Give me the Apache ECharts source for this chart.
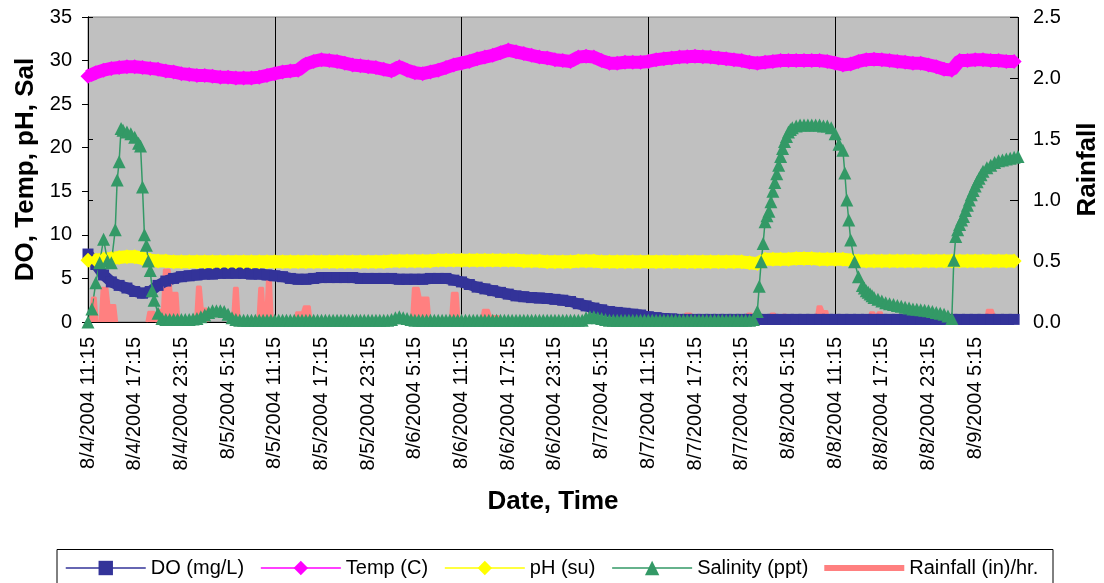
<!DOCTYPE html>
<html><head><meta charset="utf-8">
<script src="https://cdn.jsdelivr.net/npm/echarts@6/dist/echarts.min.js"></script>
<style>html,body{margin:0;padding:0;background:#fff}#c{width:1104px;height:583px}</style>
</head><body><div id="c"></div>
<script>
// x tick labels (every 6 hours from 8/4/2004 11:15)
const tickLabels = ['8/4/2004 11:15','8/4/2004 17:15','8/4/2004 23:15','8/5/2004 5:15','8/5/2004 11:15','8/5/2004 17:15','8/5/2004 23:15','8/6/2004 5:15','8/6/2004 11:15','8/6/2004 17:15','8/6/2004 23:15','8/7/2004 5:15','8/7/2004 11:15','8/7/2004 17:15','8/7/2004 23:15','8/8/2004 5:15','8/8/2004 11:15','8/8/2004 17:15','8/8/2004 23:15','8/9/2004 5:15'];

// hourly readings (hours since 8/4/2004 11:15)
const doV = [7.8,6.6,5.4,4.6,4.2,3.9,3.5,3.3,3.5,4.2,4.7,5.0,5.2,5.3,5.4,5.5,5.5,5.6,5.6,5.6,5.6,5.5,5.5,5.4,5.3,5.2,5.0,4.9,4.9,5.0,5.1,5.1,5.1,5.1,5.1,5.0,5.0,5.0,5.0,5.0,4.9,4.9,4.9,4.9,5.0,5.0,5.0,4.8,4.6,4.3,4.0,3.8,3.6,3.4,3.2,3.0,2.9,2.8,2.75,2.7,2.6,2.5,2.35,2.1,1.85,1.6,1.4,1.2,1.1,1.0,0.9,0.8,0.6,0.5,0.4,0.35,0.3,0.3,0.3,0.3,0.3,0.3,0.3,0.3,0.3,0.3,0.3,0.3,0.3,0.3,0.3,0.3,0.3,0.3,0.3,0.3,0.3,0.3,0.3,0.3,0.3,0.3,0.3,0.3,0.3,0.3,0.3,0.3,0.3,0.3,0.3,0.3,0.3,0.3,0.3,0.3,0.3,0.3,0.3,0.3];
const tempV = [28.2,28.6,28.9,29.1,29.2,29.3,29.3,29.2,29.1,29.0,28.8,28.7,28.5,28.4,28.3,28.3,28.2,28.1,28.1,28.0,28.0,28.0,28.1,28.3,28.5,28.7,28.8,28.9,29.6,29.9,30.1,30.0,29.9,29.7,29.5,29.4,29.3,29.2,29.0,28.8,29.3,28.9,28.6,28.5,28.7,28.9,29.2,29.5,29.7,29.9,30.2,30.4,30.6,30.9,31.2,31.0,30.8,30.6,30.4,30.3,30.1,30.0,29.9,30.4,30.5,30.4,30.0,29.7,29.7,29.8,29.8,29.8,29.9,30.1,30.2,30.3,30.4,30.45,30.5,30.45,30.4,30.3,30.2,30.1,30.0,29.8,29.7,29.8,29.9,30.0,30.0,30.0,30.0,30.0,30.0,29.9,29.7,29.5,29.6,29.9,30.1,30.15,30.1,30.0,29.9,29.8,29.7,29.7,29.5,29.3,29.0,28.9,30.0,30.0,30.1,30.1,30.0,30.0,29.9,29.9];
const phV = [7.1,7.1,7.2,7.3,7.4,7.5,7.5,7.3,7.1,7.0,7.0,6.9,6.9,6.9,6.9,6.9,6.9,6.9,6.9,6.9,6.9,6.9,6.9,6.9,6.9,6.9,6.9,6.9,6.9,6.9,6.9,6.9,6.9,6.9,6.9,6.9,6.9,6.9,6.9,7.0,7.0,7.0,7.0,7.0,7.0,7.1,7.1,7.1,7.1,7.1,7.1,7.1,7.1,7.1,7.1,7.1,7.0,7.0,7.0,6.9,6.9,6.9,6.9,7.0,7.0,7.0,6.9,6.9,6.9,6.9,6.9,6.9,6.9,6.9,6.9,6.9,6.9,6.9,6.9,6.9,6.9,6.9,6.9,6.9,6.9,6.8,6.7,7.2,7.2,7.2,7.2,7.3,7.3,7.3,7.2,7.2,7.2,7.2,7.1,7.0,7.0,7.0,7.0,7.0,7.0,7.0,7.0,7.0,7.0,7.0,7.0,7.0,7.0,7.0,7.0,7.0,7.0,7.0,7.0,7.0];

// salinity readings: early spike, half-hourly baseline (10h..85h), later tides
const salT1 = [0,0.5,1,1.5,2,2.5,3,3.5,3.75,4,4.25,4.5,5,5.5,6,6.5,6.75,7,7.25,7.5,7.75,8,8.25,8.5,9,9.5];
const salV1 = [0,1.5,4.5,6.8,9.5,7.0,6.8,10.6,16.3,18.4,22.2,22.0,21.8,21.6,21.2,20.5,20.2,15.5,10.0,8.8,7.0,5.9,3.6,2.5,1.0,0.4];
const salV2 = [0.3,0.3,0.3,0.3,0.3,0.3,0.3,0.35,0.4,0.6,0.8,1.1,1.3,1.3,1.3,1.2,0.9,0.5,0.3,0.2,
 0.2,0.2,0.2,0.2,0.2,0.2,0.2,0.2,0.2,0.2,0.2,0.2,0.2,0.2,0.2,0.2,0.2,0.2,0.2,0.2,0.2,0.2,0.2,0.2,0.2,0.2,0.2,0.2,0.2,0.2,0.2,0.2,0.2,0.2,0.2,0.2,0.2,0.2,
 0.3,0.5,0.6,0.5,0.4,0.3,
 0.2,0.2,0.2,0.2,0.2,0.2,0.2,0.2,0.2,0.2,0.2,0.2,0.2,0.2,0.2,0.2,0.2,0.2,0.2,0.2,0.2,0.2,0.2,0.2,0.2,0.2,0.2,0.2,0.2,0.2,0.2,0.2,0.2,0.2,0.2,0.2,0.2,0.2,0.2,0.2,0.2,0.2,0.2,0.2,
 0.5,0.6,0.6,0.5,0.4,0.3,
 0.2,0.2,0.2,0.2,0.2,0.2,0.2,0.2,0.2,0.2,0.2,0.2,0.2,0.2,0.2,0.2,0.2,0.2,0.2,0.2,0.2,0.2,0.2,0.2,0.2,0.2,0.2,0.2,0.2,0.2,0.2,0.2,0.2,0.2,0.2,0.2,0.2];
const salT3 = [85.5,86,86.25,86.5,86.75,87,87.25,87.5,87.75,88,88.25,88.5,88.75,89,89.25,89.5,89.75,90,90.25,90.5,91,91.5,92,92.5,93,93.5,94,94.5,95,95.5,96,96.5,97,97.25,97.5,97.75,98,98.5,99,99.5,99.75,100,100.25,100.5,100.75,101,101.5,102,102.5,103,103.5,104,104.5,105,105.5,106,106.5,107,107.5,108,108.5,109,109.5,110,110.5,111,111.25,111.5,111.75,112,112.25,112.5,112.75,113,113.25,113.5,113.75,114,114.25,114.5,114.75,115,115.5,116,116.5,117,117.5,118,118.5,119,119.5];
const salV3 = [0.3,1.2,4.1,6.9,9.0,11.5,12.2,12.7,13.8,15.0,16.0,17.0,18.0,19.0,19.9,20.7,21.3,21.8,22.1,22.3,22.5,22.6,22.6,22.6,22.6,22.6,22.6,22.5,22.5,22.3,21.6,20.4,19.7,17.1,14.0,11.7,9.4,6.9,5.2,4.2,3.9,3.6,3.4,3.2,3.0,2.8,2.6,2.4,2.2,2.1,2.0,1.9,1.8,1.7,1.6,1.5,1.45,1.4,1.35,1.3,1.2,1.1,1.0,0.9,0.7,0.4,7.1,9.8,10.6,11.2,11.7,12.1,12.8,13.4,14.0,14.6,15.1,15.6,16.1,16.5,16.9,17.3,17.7,18.0,18.3,18.5,18.6,18.7,18.8,18.9,19.0];

// rainfall (in/hr), null = no record between showers
const rainT = [0.25,0.5,1.0,1.25,1.4, 1.5,1.75,2.5,2.75,3.5,3.75,5, 7.5,7.75,8.5,8.75,9.0,9.5,9.75,10.5,10.75,11.5,11.75,12, 13.75,14,14.5,14.75,15.25,15.5,16, 18.5,18.75,19.25,19.5,20, 21.75,22,22.5,22.75,23,23.5,23.75,25, 26.5,26.75,27.5,27.75,28.5,28.75,30, 41.5,41.75,42.5,42.75,43.75,44,45, 46.5,46.75,47.5,47.75,49, 50.25,50.5,50.75,51.5,51.75,52.75,53,60, 76.5,76.75,77.5,77.75,80,
 83.25,83.5,84.5,84.75,85.25,85.5,86,86.25,86.75,87,87.5,87.75,88.25,88.5,89,89.25,89.75,90,90.25,90.75,91,92,92.25,92.75,93,93.5,93.75,94.25,94.5,95,95.25,97,
 98.25,98.5,99.5,99.75,100.25,100.5,101,101.25,101.5,102,102.25,104,104.25,105,105.25,106,106.25,110, 115.25,115.5,116.25,116.5,117.5,117.75];
const rainV = [0,0.2,0.2,0,null, 0,0.28,0.28,0.14,0.14,0,null, 0,0.085,0.085,0,0.1,0.1,0.43,0.43,0.24,0.24,0,null, 0,0.29,0.29,0.11,0.11,0,null, 0,0.28,0.28,0,null, 0,0.28,0.28,0,0.36,0.36,0,null, 0,0.08,0.08,0.13,0.13,0,null, 0,0.28,0.28,0.2,0.2,0,null, 0,0.24,0.24,0,null, 0,0.02,0.1,0.1,0.05,0.05,0,null, 0,0.07,0.07,0,null,
 0,0.03,0.03,0.07,0.07,0.03,0.03,0.05,0.05,0.03,0.03,0.07,0.07,0.04,0.04,0.06,0.06,0.04,0.05,0.05,0.03,0.03,0.05,0.05,0.03,0.03,0.13,0.13,0.09,0.09,0,null,
 0,0.05,0.05,0,0,0.08,0.08,0.05,0.08,0.08,0.03,0.03,0.06,0.06,0.02,0.02,0,null, 0,0.1,0.1,0.05,0.05,0];

const FONT = 'Liberation Sans, Arial, sans-serif';
const hourT = doV.map((_, i) => i);
const salT2 = salV2.map((_, i) => 10 + i * 0.5);
const salT = salT1.concat(salT2, salT3);
const salV = salV1.concat(salV2, salV3);
const pairs = (t, v) => t.map((x, i) => [x, v[i]]);
const tickPos = tickLabels.map((_, i) => i * 6);

const chart = echarts.init(document.getElementById('c'), null, {renderer: 'canvas'});
chart.setOption({
  animation: false,
  backgroundColor: '#ffffff',
  grid: {left: 88, right: 86, top: 17, bottom: 261, outerBoundsMode: 'none', containLabel: false,
         show: true, backgroundColor: '#C0C0C0', borderColor: '#808080', borderWidth: 1},
  xAxis: [{
    type: 'value', min: 0, max: 119.5,
    name: 'Date, Time', nameLocation: 'middle', nameGap: 167,
    nameTextStyle: {fontFamily: FONT, fontSize: 26, fontWeight: 'bold', color: '#000'},
    axisLine: {show: true, lineStyle: {color: '#000', width: 1}},
    axisTick: {show: false},
    splitLine: {show: false},
    axisLabel: {
      customValues: tickPos, rotate: 90, margin: 15,
      fontFamily: FONT, fontSize: 20, color: '#000',
      formatter: v => { const i = Math.round(v / 6); return (Math.abs(v - i * 6) < 1e-6 && tickLabels[i]) ? tickLabels[i] : ''; }
    }
  }, {
    type: 'value', min: 0, max: 119.5, interval: 24, position: 'bottom',
    axisLine: {show: false}, axisTick: {show: false}, axisLabel: {show: false},
    splitLine: {show: true, lineStyle: {color: '#000', width: 1}}
  }],
  yAxis: [{
    type: 'value', min: 0, max: 35, interval: 5, position: 'left',
    name: 'DO, Temp, pH, Sal', nameLocation: 'middle', nameGap: 48, nameRotate: 90,
    nameTextStyle: {fontFamily: FONT, fontSize: 26, fontWeight: 'bold', color: '#000'},
    axisLine: {show: true, lineStyle: {color: '#000'}},
    axisTick: {show: true, length: 6, lineStyle: {color: '#000'}},
    axisLabel: {fontFamily: FONT, fontSize: 20, color: '#000', margin: 16},
    splitLine: {show: false}
  }, {
    type: 'value', min: 0, max: 2.5, interval: 0.5, position: 'right',
    name: 'Rainfall', nameLocation: 'middle', nameGap: 57, nameRotate: 90,
    nameTextStyle: {fontFamily: FONT, fontSize: 26, fontWeight: 'bold', color: '#000'},
    axisLine: {show: true, lineStyle: {color: '#000'}},
    axisTick: {show: true, length: 5, lineStyle: {color: '#000'}},
    axisLabel: {fontFamily: FONT, fontSize: 20, color: '#000', margin: 15, formatter: v => v.toFixed(1)},
    splitLine: {show: false}
  }, {
    type: 'value', min: 0, max: 2.5, interval: 0.5, position: 'right',
    axisLine: {show: false},
    axisTick: {show: true, inside: true, length: 8, lineStyle: {color: '#000'}},
    axisLabel: {show: false}, splitLine: {show: false}
  }],
  legend: {
    left: 65, top: 558, padding: 0, itemWidth: 80, itemHeight: 18, itemGap: 16,
    selectedMode: false,
    textStyle: {fontFamily: FONT, fontSize: 20, color: '#000'},
    data: [
      {name: 'DO (mg/L)', lineStyle: {width: 1.5}},
      {name: 'Temp (C)', lineStyle: {width: 1.5}},
      {name: 'pH (su)', lineStyle: {width: 1.5}},
      {name: 'Salinity (ppt)', lineStyle: {width: 1.5}},
      {name: 'Rainfall (in)/hr.', icon: 'path://M0,0L80,0L80,6L0,6Z', itemStyle: {color: '#FF8080'}}
    ]
  },
  graphic: [{
    type: 'rect', silent: true, z: 0,
    shape: {x: 57, y: 549.5, width: 996, height: 50},
    style: {fill: null, stroke: '#000', lineWidth: 1}
  }],
  series: [
    {name: 'DO (mg/L)', type: 'line', xAxisIndex: 0, yAxisIndex: 0, data: pairs(hourT, doV),
     symbol: 'rect', symbolSize: 11, lineStyle: {color: '#333399', width: 11}, itemStyle: {color: '#333399'}, silent: true},
    {name: 'Temp (C)', type: 'line', xAxisIndex: 0, yAxisIndex: 0, data: pairs(hourT, tempV),
     symbol: 'diamond', symbolSize: 15, lineStyle: {color: '#FF00FF', width: 13}, itemStyle: {color: '#FF00FF'}, silent: true},
    {name: 'pH (su)', type: 'line', xAxisIndex: 0, yAxisIndex: 0, data: pairs(hourT, phV),
     symbol: 'diamond', symbolSize: 15, lineStyle: {color: '#FFFF00', width: 13}, itemStyle: {color: '#FFFF00'}, silent: true},
    {name: 'Salinity (ppt)', type: 'line', xAxisIndex: 0, yAxisIndex: 0, data: pairs(salT, salV),
     symbol: 'triangle', symbolSize: 13, lineStyle: {color: '#339966', width: 1.5}, itemStyle: {color: '#339966'}, silent: true},
    {name: 'Rainfall (in)/hr.', type: 'line', xAxisIndex: 0, yAxisIndex: 1, data: pairs(rainT, rainV),
     symbol: 'none', connectNulls: false, lineStyle: {color: '#FF8080', width: 2}, itemStyle: {color: '#FF8080'},
     areaStyle: {color: '#FF8080', opacity: 1}, silent: true}
  ]
});
</script></body></html>
